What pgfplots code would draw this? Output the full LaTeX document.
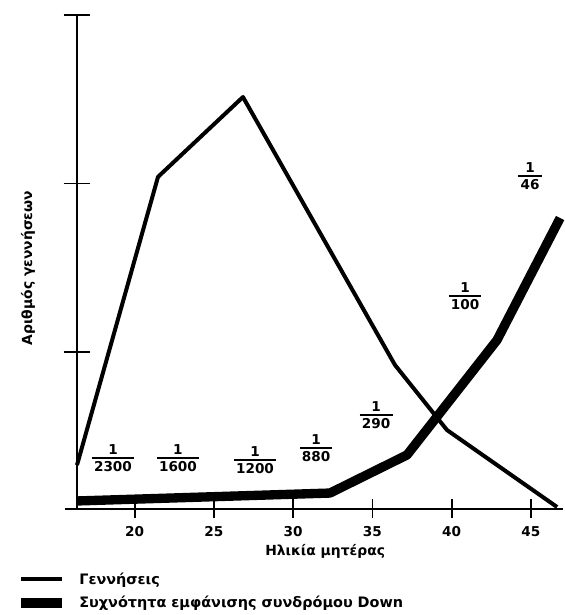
\documentclass[border=0pt]{standalone}
\usepackage{fontspec}
\setmainfont{DejaVu Sans}
\usepackage{amsmath}
\usepackage{pgfplots}
\pgfplotsset{compat=1.18}
\newcommand\fr[2]{$\genfrac{}{}{1.4pt}{1}{\raisebox{0.8pt}{#1}}{\raisebox{-0.8pt}{\,#2\,}}$}
\begin{document}
\begin{tikzpicture}
\path[use as bounding box] (-57.75pt,-79.7pt) rectangle (365.25pt,381.5pt);
\begin{axis}[
 scale only axis, width=364.2pt, height=370.3pt,
 xmin=16.36, xmax=47.0, ymin=0.07, ymax=3.0,
 axis lines=left, axis line style={-, line width=1.4pt},
 clip=false,
 xtick={20,25,30,35,40,45}, ytick={1,2,3}, yticklabels={},
 tick align=center, major tick length=14pt,
 tick style={line width=1.4pt, black},
 y tick style={/pgfplots/major tick length=20pt},
 /pgf/number format/assume math mode=true,
 ticklabel style={font=\bfseries\fontsize{10.2}{12}\selectfont},
 xticklabel style={yshift=-2.5pt},
 xlabel={Ηλικία μητέρας},
 ylabel={Αριθμός γεννήσεων},
 label style={font=\bfseries\fontsize{10.4}{13}\selectfont},
 xlabel style={at={(axis description cs:0.511,-0.0857)}, anchor=center},
 ylabel style={at={(axis description cs:-0.101,0.4875)}, anchor=center, rotate=0},
 legend style={draw=none, fill=none, at={(axis description cs:-0.133,-0.118)}, anchor=north west,
   font=\bfseries\fontsize{10.8}{12.5}\selectfont, row sep=3.5pt, legend cell align=left},
 legend image code/.code={\draw[#1] (0pt,0pt) -- (30.75pt,0pt); \path (38pt,0pt);},
]
\addplot[black, line width=3pt, line join=round] coordinates {
 (16.36,0.329) (21.47,2.039) (26.83,2.513) (36.42,0.923) (39.70,0.537) (46.65,0.080)};
\addlegendentry{Γεννήσεις}
\addplot[black, line width=7pt, line join=round] coordinates {
 (16.36,0.116) (32.32,0.163) (37.18,0.389) (42.86,1.071) (46.84,1.795)};
\addlegendentry{Συχνότητα εμφάνισης συνδρόμου Down}
\draw[line width=1.4pt] (axis cs:15.6,0.07) -- (axis cs:16.36,0.07);
\begin{scope}[every node/.style={font=\bfseries\fontsize{10.2}{12}\selectfont}]
\node at (axis cs:18.63,0.371) {\fr{1}{2300}};
\node at (axis cs:22.73,0.371) {\fr{1}{1600}};
\node at (axis cs:27.59,0.359) {\fr{1}{1200}};
\node at (axis cs:31.44,0.430) {\fr{1}{880}};
\node at (axis cs:35.23,0.626) {\fr{1}{290}};
\node at (axis cs:40.84,1.332) {\fr{1}{100}};
\node at (axis cs:44.94,2.045) {\fr{1}{46}};
\end{scope}
\end{axis}
\end{tikzpicture}
\end{document}
